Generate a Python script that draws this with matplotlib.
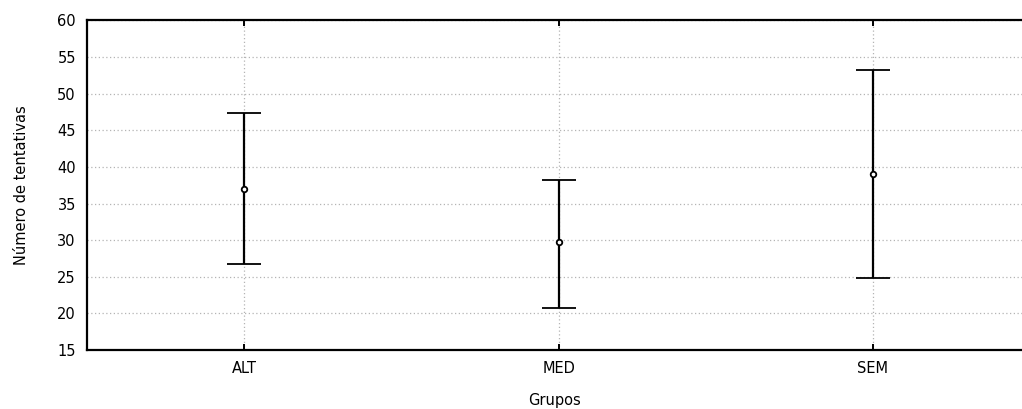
import matplotlib
matplotlib.use("Agg")
from matplotlib import pyplot as plt

# group means and interval limits
grupos = ["ALT", "MED", "SEM"]
medias = [37.0, 29.8, 39.1]
superior = [47.3, 38.2, 53.3]
inferior = [26.8, 20.8, 24.9]

plt.rcParams['font.family'] = ['DejaVu Sans']
fs = 10.5

fig = plt.figure(figsize=(10.22, 4.09), dpi=100)
W, H = 1022, 409
ax = fig.add_axes([87 / W, 1 - 350 / H, (W - 87) / W, (350 - 20.5) / H])

x = list(range(1, len(grupos) + 1))
err_lo = [m - lo for m, lo in zip(medias, inferior)]
err_hi = [hi - m for m, hi in zip(medias, superior)]
ax.errorbar(x, medias, yerr=[err_lo, err_hi], fmt='o', color='black',
            mfc='white', mec='black', ms=4, mew=1.3, elinewidth=1.6,
            capsize=12.5, capthick=1.6)

ax.set_xlim(0.5, 3.474)
ax.set_ylim(15, 60)
ax.set_yticks(range(15, 61, 5))
ax.set_xticks(x)
ax.set_xticklabels(grupos)
ax.grid(True, color='#b4b4b4', linestyle=(0, (1, 2)), linewidth=0.9)
ax.set_axisbelow(True)

for s in ['left', 'top', 'bottom']:
    ax.spines[s].set_linewidth(1.6)
ax.spines['right'].set_visible(False)

ax.tick_params(axis='x', direction='in', length=4, width=1.4, top=True,
               labelsize=fs, pad=8)
ax.tick_params(axis='y', length=0, labelsize=fs, pad=8)

ax.set_xlabel("Grupos", fontsize=fs, labelpad=12)
ax.set_ylabel("Número de tentativas", fontsize=fs, labelpad=20)

fig.savefig("out.png", dpi=100)
